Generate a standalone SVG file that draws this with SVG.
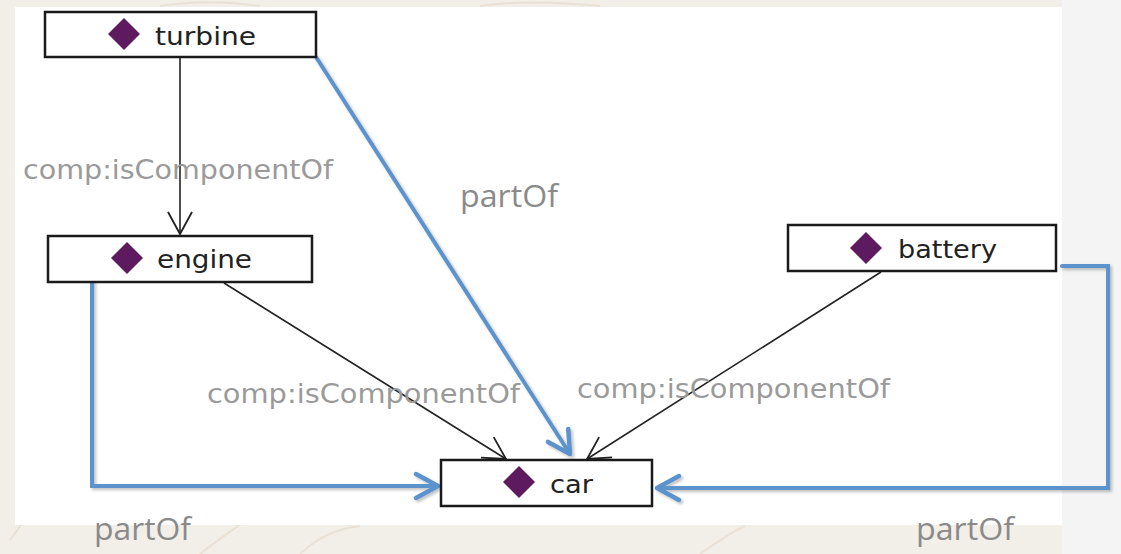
<svg xmlns="http://www.w3.org/2000/svg" width="1121" height="554" viewBox="0 0 1121 554">
<style>
.box{fill:#ffffff;stroke:#1a1a1a;stroke-width:2.5}
.dia{fill:#5e1a5e}
.name{font-family:"DejaVu Sans",sans-serif;font-size:25px;fill:#222}
.lbl{font-family:"DejaVu Sans",sans-serif;font-size:26px;fill:#9a9a9a}
.part{font-family:"Open Sans",sans-serif;font-size:31px;fill:#8a8a8a}
.blk{fill:none;stroke:#222;stroke-width:1.6}
.blu{fill:none;stroke:#5b93cc;stroke-width:4;stroke-linecap:round;stroke-linejoin:miter}
</style>
<defs>
<marker id="openBlk" viewBox="-26 -15 30 30" refX="0" refY="0" markerWidth="30" markerHeight="30" markerUnits="userSpaceOnUse" orient="auto">
<path d="M-22,-12 L0,0 L-22,12" fill="none" stroke="#222" stroke-width="1.8"/>
</marker>
<marker id="openBlu" viewBox="-28 -16 32 32" refX="0" refY="0" markerWidth="32" markerHeight="32" markerUnits="userSpaceOnUse" orient="auto">
<path d="M-22,-12 L0,0 L-22,12" fill="none" stroke="#5b93cc" stroke-width="4.5" stroke-linecap="round" stroke-linejoin="round"/>
</marker>
<filter id="sh" x="-10%" y="-10%" width="120%" height="120%">
<feDropShadow dx="2" dy="2" stdDeviation="1.5" flood-color="#000" flood-opacity="0.25"/>
</filter>
</defs>
<rect x="0" y="0" width="1121" height="554" fill="#f2eee8"/>
<rect x="1062" y="0" width="59" height="554" fill="#f4f4f4"/>
<g fill="none" stroke="#e6dccd" stroke-width="2" opacity="0.7">
<path d="M10,540 C40,500 60,470 50,430"/>
<path d="M200,554 C230,530 250,520 270,500"/>
<path d="M300,554 C320,535 340,528 360,526"/>
<path d="M700,554 C720,540 735,530 745,526"/>
<path d="M160,6 C200,0 230,2 260,6"/>
<path d="M480,6 C520,0 560,2 600,6"/>
</g>
<rect x="15" y="7" width="1047" height="518" fill="#ffffff"/>

<g id="connectors">
<line class="blk" x1="180" y1="57" x2="180" y2="234" marker-end="url(#openBlk)"/>
<line class="blk" x1="224" y1="283" x2="506" y2="459" marker-end="url(#openBlk)"/>
<line class="blk" x1="881" y1="272" x2="587" y2="459" marker-end="url(#openBlk)"/>
<g filter="url(#sh)">
<line class="blu" x1="316" y1="57" x2="570" y2="454" marker-end="url(#openBlu)"/>
<polyline class="blu" points="92,280 92,486 438,486" marker-end="url(#openBlu)"/>
<polyline class="blu" points="1062,266 1108,266 1108,488 657,488" marker-end="url(#openBlu)"/>
</g>
<text class="lbl" x="23" y="179" textLength="310" lengthAdjust="spacingAndGlyphs">comp:isComponentOf</text>
<text class="lbl" x="207" y="403" textLength="313" lengthAdjust="spacingAndGlyphs">comp:isComponentOf</text>
<text class="lbl" x="577" y="398" textLength="313" lengthAdjust="spacingAndGlyphs">comp:isComponentOf</text>
<text class="part" x="460" y="207" textLength="98" lengthAdjust="spacingAndGlyphs">partOf</text>
<text class="part" x="94" y="540" textLength="97" lengthAdjust="spacingAndGlyphs">partOf</text>
<text class="part" x="916" y="540" textLength="98" lengthAdjust="spacingAndGlyphs">partOf</text>
</g>

<g id="turbine">
<rect class="box" x="45" y="12" width="271" height="45"/>
<path class="dia" d="M124,18 L140,34 L124,50 L108,34 Z"/>
<text class="name" x="155" y="45" textLength="101" lengthAdjust="spacingAndGlyphs">turbine</text>
</g>
<g id="engine">
<rect class="box" x="48" y="236" width="264" height="46"/>
<path class="dia" d="M127,242 L143,258 L127,274 L111,258 Z"/>
<text class="name" x="157" y="268" textLength="95" lengthAdjust="spacingAndGlyphs">engine</text>
</g>
<g id="battery">
<rect class="box" x="788" y="225" width="268" height="46"/>
<path class="dia" d="M866,232 L882,248 L866,264 L850,248 Z"/>
<text class="name" x="898" y="258" textLength="99" lengthAdjust="spacingAndGlyphs">battery</text>
</g>
<g id="car">
<rect class="box" x="441" y="460" width="211" height="46"/>
<path class="dia" d="M519,466 L535,482 L519,498 L503,482 Z"/>
<text class="name" x="550" y="493" textLength="43" lengthAdjust="spacingAndGlyphs">car</text>
</g>
</svg>
